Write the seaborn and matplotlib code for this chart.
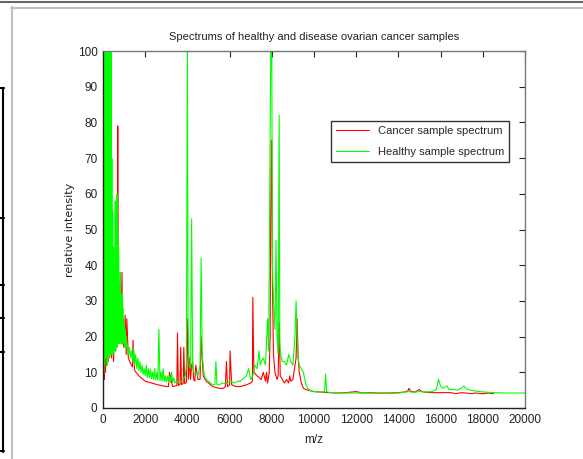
import numpy as np
import pandas as pd
import seaborn as sns
import matplotlib.pyplot as plt
from matplotlib.lines import Line2D

# healthy sample spectrum
healthy_mz = [0, 20, 40, 60, 80, 100, 120, 140, 160, 180, 200, 220, 240, 260, 280, 300, 320, 340, 360, 380,
              400, 420, 440, 460, 480, 500, 520, 540, 560, 580, 600, 620, 640, 660, 680, 700, 720, 740, 760, 780,
              800, 820, 840, 860, 880, 900, 920, 940, 960, 980, 1000, 1020, 1040, 1060, 1080, 1100, 1150, 1200,
              1250, 1300, 1350, 1400, 1450, 1500, 1550, 1600, 1650, 1700, 1750, 1800, 1850, 1900, 1950, 2000,
              2050, 2100, 2150, 2200, 2250, 2300, 2350, 2400, 2450, 2500, 2550, 2600, 2650, 2700, 2750, 2800,
              2850, 2900, 2950, 3000, 3050, 3100, 3150, 3200, 3250, 3300, 3350, 3400, 3500, 3600, 3700, 3800,
              3900, 3950, 4000, 4030, 4080, 4150, 4200, 4250, 4300, 4400, 4500, 4600, 4650, 4700, 4800, 4900,
              5000, 5100, 5200, 5300, 5350, 5400, 5500, 5600, 5700, 5800, 5900, 6000, 6100, 6200, 6300, 6400,
              6500, 6600, 6700, 6800, 6900, 7000, 7100, 7200, 7300, 7400, 7450, 7500, 7600, 7700, 7800, 7850,
              7900, 7950, 7980, 8000, 8030, 8080, 8150, 8200, 8250, 8300, 8350, 8380, 8420, 8500, 8600, 8700,
              8800, 8900, 9000, 9100, 9150, 9200, 9250, 9300, 9400, 9500, 9600, 9700, 9800, 10000, 10200,
              10400, 10500, 10550, 10600, 10700, 11000, 11500, 12000, 12500, 13000, 13500, 14000, 14300,
              14500, 14700, 15000, 15300, 15600, 15800, 15900, 16000, 16100, 16300, 16400, 16600, 16800,
              17000, 17100, 17200, 17400, 17600, 18000, 18500, 19000, 19500, 20000]
healthy_int = [4, 80, 10, 75, 12, 100, 14, 100, 15, 85, 12, 100, 16, 100, 14, 100, 15, 90, 16, 100,
               15, 70, 16, 55, 15, 45, 16, 40, 17, 58, 16, 55, 18, 60, 17, 50, 18, 45, 19, 35,
               18, 38, 19, 30, 18, 32, 19, 28, 18, 25, 18, 23, 17, 22, 17, 20, 16, 15,
               17, 14, 16, 13, 17, 12, 15, 11, 14, 10.5, 13, 10, 12, 9.5, 11, 9,
               12, 8.5, 11, 8.5, 11, 8.2, 10, 8, 11, 7.8, 10, 7.8, 22, 7.6, 10, 7.5,
               11, 7.5, 9, 7.3, 9, 7.2, 9, 7.2, 10, 7.2, 8.5, 7, 7.5, 7.2, 7.5, 8,
               9, 12, 100, 25, 12, 11, 53, 12, 10, 10, 9, 12, 42, 15, 9, 8,
               7.5, 7, 6.5, 6.5, 13, 6.5, 6.5, 6.8, 7, 6.8, 7, 7.5, 7.5, 7, 7.2, 7.5,
               7.5, 8, 8.5, 9, 11, 8, 9, 12, 11, 16, 12, 13, 14, 12, 25, 16,
               60, 100, 100, 98, 40, 30, 22, 47, 20, 15, 82, 18, 15, 13, 13, 12,
               15, 13, 12, 20, 30, 20, 14, 12, 11, 10, 7, 5.5, 5, 4.6, 4.5,
               4.5, 4.6, 9.5, 4.6, 4.4, 4.2, 4.2, 4.2, 4.2, 4.1, 4.1, 4.2, 4.4,
               4.6, 4.4, 4.6, 4.5, 4.6, 5.2, 8, 6.2, 5.5, 6.2, 5.2, 5.2, 5,
               5.6, 6.2, 5.4, 5, 4.8, 4.5, 4.3, 4.2, 4.2, 4.2]

# cancer sample spectrum
cancer_mz = [0, 30, 60, 90, 120, 150, 180, 210, 240, 270, 300, 350, 400, 450, 500, 550, 600, 650, 680, 700,
             720, 750, 800, 850, 900, 920, 950, 1000, 1050, 1100, 1130, 1200, 1300, 1400, 1420, 1500, 1700,
             2000, 2300, 2600, 3000, 3100, 3150, 3300, 3500, 3530, 3570, 3650, 3680, 3720, 3800, 3830, 3870,
             3950, 4000, 4050, 4100, 4150, 4200, 4250, 4300, 4350, 4400, 4500, 4600, 4650, 4700, 4750, 4900,
             5000, 5200, 5500, 5700, 5800, 5850, 5900, 6000, 6020, 6100, 6300, 6500, 6800, 7000, 7080, 7100,
             7150, 7300, 7500, 7600, 7700, 7750, 7800, 7880, 7920, 7950, 7980, 8000, 8030, 8080, 8150, 8250,
             8300, 8350, 8400, 8500, 8600, 8700, 8800, 8850, 8900, 9000, 9100, 9150, 9200, 9250, 9300, 9400,
             9500, 9700, 10000, 10500, 11000, 11500, 12000, 12300, 12600, 13000, 13500, 14000, 14300, 14450,
             14500, 14600, 14800, 15000, 15100, 15300, 15600, 16000, 16500, 16700, 17000, 17500, 17600,
             18000, 18300, 18500]
cancer_int = [3, 17, 8, 20, 10, 18, 12, 22, 13, 20, 14, 18, 14, 20, 13, 22, 16, 56, 30, 79,
              25, 20, 21, 19, 38, 20, 18, 17, 26, 15, 25, 14, 12.5, 11.5, 19, 10.5, 9,
              7.5, 7, 6.5, 6, 6, 10, 6, 6.3, 21, 6.3, 6.6, 17, 6.6, 6.8, 17, 6.8,
              7.2, 25, 8, 14, 8, 12, 13, 8, 7.5, 12, 8, 8, 20, 14, 9, 7.5,
              7, 6, 5.5, 5.5, 6, 13, 6, 6.5, 16, 6.5, 6, 6, 6.5, 7, 7.5, 31,
              10, 9, 8, 10, 7.5, 10, 7, 10, 20, 54, 75, 75, 35, 15, 10, 8,
              9, 24, 9, 8, 7, 8, 7, 9, 7.5, 8, 12, 14, 25, 14, 10, 7,
              5.5, 5, 4.6, 4.4, 4.2, 4.3, 4.6, 4.2, 4.3, 4.2, 4.2, 4.3, 4.5, 4.8,
              5.5, 4.6, 4.5, 5.2, 4.6, 4.4, 4.3, 4.3, 4.3, 4.0, 4.3, 4.0, 4.2,
              4.0, 4.2, 4.0]

labels = ["Cancer sample spectrum", "Healthy sample spectrum"]

df = pd.concat([
    pd.DataFrame({"mz": cancer_mz, "intensity": cancer_int, "sample": labels[0]}),
    pd.DataFrame({"mz": healthy_mz, "intensity": healthy_int, "sample": labels[1]}),
])

sns.set_style("white")
plt.rcParams['font.family'] = ['Liberation Sans Narrow', 'Liberation Sans', 'DejaVu Sans']

fig = plt.figure(figsize=(5.83, 4.59), dpi=100)
ax = fig.add_axes([103 / 583, 1 - 408 / 459, 422 / 583, 357 / 459])

sns.lineplot(data=df, x="mz", y="intensity", hue="sample", hue_order=labels,
             palette={labels[0]: "#ff0000", labels[1]: "#00ff00"},
             estimator=None, sort=False, linewidth=0.8, ax=ax)

ax.set_xlim(0, 20000)
ax.set_ylim(0, 100)
ax.set_xticks(np.arange(0, 20001, 2000))
ax.set_yticks(np.arange(0, 101, 10))
ax.tick_params(direction="in", length=4, width=0.8, top=True, right=True,
               labelsize=8.5, colors="#222222", pad=4)
for s in ["left", "bottom"]:
    ax.spines[s].set_color("#222222")
for s in ["top", "right"]:
    ax.spines[s].set_color("#777777")
for s in ax.spines.values():
    s.set_linewidth(1.0)

ax.set_title("Spectrums of healthy and disease ovarian cancer samples", fontsize=8, pad=8, color="#222222")
ax.set_xlabel("m/z", fontsize=8.5, labelpad=6, color="#222222")
ax.set_ylabel("relative intensity", fontsize=8, labelpad=2, color="#222222",
              family=['DejaVu Sans'])

leg = ax.legend(loc="upper left", bbox_to_anchor=(0.54, 0.804), fontsize=8, frameon=True,
                fancybox=False, framealpha=1, edgecolor="#333333", borderpad=0.45,
                borderaxespad=0, handlelength=3.0, labelspacing=0.95)
leg.get_frame().set_linewidth(1.0)

# screenshot frame bits around the chart
def fline(x0, y0, x1, y1, color, lw):
    fig.add_artist(Line2D([x0 / 583, x1 / 583], [1 - y0 / 459, 1 - y1 / 459],
                          transform=fig.transFigure, color=color, linewidth=lw))

fline(0, 1.5, 583, 1.5, "#666666", 1.5)
fline(11, 7.5, 583, 7.5, "#c0c0c0", 1.5)
fline(11.5, 7, 11.5, 459, "#c0c0c0", 1.5)
fline(2.5, 88, 2.5, 452, "#000000", 1.5)
for yy in [88, 218, 285, 318, 352, 451]:
    fline(0, yy, 4, yy, "#000000", 1.5)

fig.savefig("out.png", dpi=100)
